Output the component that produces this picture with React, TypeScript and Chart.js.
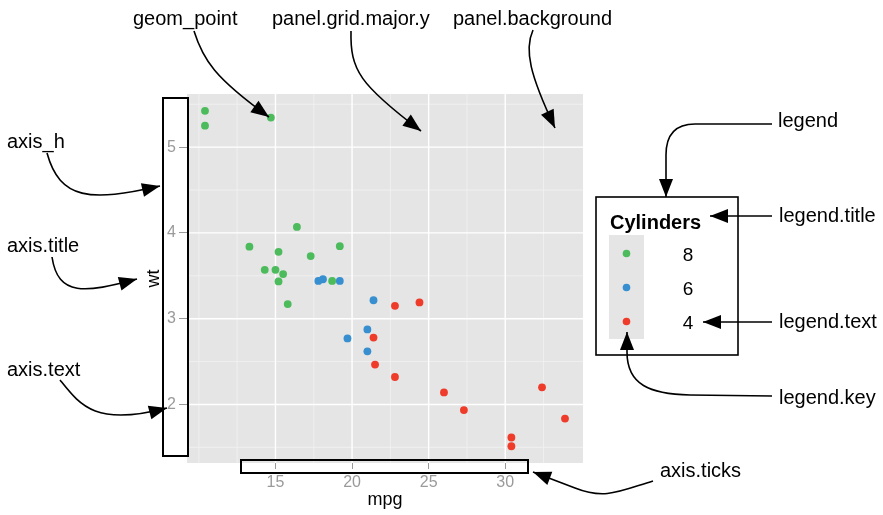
import React, { useEffect, useRef } from "react";
import { Chart, registerables } from "chart.js";

Chart.register(...registerables);

// ---- data (mtcars: mpg vs wt, grouped by cylinders) ----
const CYL_LABELS = ["8", "6", "4"];
const CYL_COLORS = ["#4cbb5c", "#378fd0", "#ef3b2a"];
const MPG_8 = [18.7, 14.3, 16.4, 17.3, 15.2, 10.4, 10.4, 14.7, 15.5, 15.2, 13.3, 19.2, 15.8, 15.0];
const WT_8 = [3.44, 3.57, 4.07, 3.73, 3.78, 5.25, 5.424, 5.345, 3.52, 3.435, 3.84, 3.845, 3.17, 3.57];
const MPG_6 = [21.0, 21.0, 21.4, 18.1, 19.2, 17.8, 19.7];
const WT_6 = [2.62, 2.875, 3.215, 3.46, 3.44, 3.44, 2.77];
const MPG_4 = [22.8, 24.4, 22.8, 32.4, 30.4, 33.9, 21.5, 27.3, 26.0, 30.4, 21.4];
const WT_4 = [2.32, 3.19, 3.15, 2.2, 1.615, 1.835, 2.465, 1.935, 2.14, 1.513, 2.78];

const X_TICKS = [15, 20, 25, 30];
const X_MINOR = [10, 12.5, 17.5, 22.5, 27.5, 32.5];
const Y_TICKS = [2, 3, 4, 5];
const Y_MINOR = [1.5, 2.5, 3.5, 4.5, 5.5];
const X_LIMITS = [9.225, 35.075];
const Y_LIMITS = [1.3175, 5.6196];
const X_TITLE = "mpg";
const Y_TITLE = "wt";
const LEGEND_TITLE = "Cylinders";

const FONT = "'Liberation Sans', Arial, Helvetica, sans-serif";
const PANEL_BG = "#e4e5e4";
const AXIS_GREY = "#9a9a9a";

type Cmd = [string, ...number[]];

// annotation labels (decoration): text, x, baseline y
const LABELS: [string, number, number][] = [
  ["geom_point", 133, 25],
  ["panel.grid.major.y", 272, 25],
  ["panel.background", 453, 25],
  ["axis_h", 7, 148],
  ["axis.title", 7, 252],
  ["axis.text", 7, 376],
  ["legend", 778, 127],
  ["legend.title", 779, 222],
  ["legend.text", 779, 328],
  ["legend.key", 779, 404],
  ["axis.ticks", 660, 477],
];

// annotation arrows (decoration)
const ARROWS: Cmd[][] = [
  [["M", 194, 31], ["C", 203, 60, 215, 78, 269, 117]],
  [["M", 351, 31], ["C", 350, 70, 360, 85, 421, 131]],
  [["M", 533, 30], ["C", 524, 50, 530, 75, 555, 128]],
  [["M", 47, 153], ["C", 60, 200, 90, 202, 160, 186]],
  [["M", 52, 257], ["C", 58, 297, 85, 293, 137, 279]],
  [["M", 60, 380], ["C", 80, 405, 95, 427, 167, 408]],
  [["M", 772, 124], ["L", 695, 124], ["C", 675, 124, 666, 135, 666, 155], ["L", 666, 197]],
  [["M", 772, 216], ["L", 710, 216]],
  [["M", 772, 322], ["L", 703, 322]],
  [["M", 772, 396], ["L", 690, 395], ["C", 650, 394, 627, 385, 627, 352], ["L", 627, 332]],
  [["M", 653, 481], ["C", 620, 491, 605, 500, 575, 488], ["L", 533, 472]],
];

// outline boxes (decoration): x, y, w, h
const BOXES: [number, number, number, number][] = [
  [163, 98, 25, 358],
  [241, 460, 287, 13],
];
const LEGEND_BOX: [number, number, number, number] = [596, 197, 142, 158];

function drawArrow(ctx: CanvasRenderingContext2D, cmds: Cmd[]) {
  let px = 0, py = 0, dx = 1, dy = 0;
  ctx.beginPath();
  for (const c of cmds) {
    const t = c[0];
    const v = c.slice(1) as number[];
    if (t === "M") {
      ctx.moveTo(v[0], v[1]);
      px = v[0]; py = v[1];
    } else if (t === "L") {
      ctx.lineTo(v[0], v[1]);
      dx = v[0] - px; dy = v[1] - py;
      px = v[0]; py = v[1];
    } else if (t === "C") {
      ctx.bezierCurveTo(v[0], v[1], v[2], v[3], v[4], v[5]);
      dx = v[4] - v[2]; dy = v[5] - v[3];
      px = v[4]; py = v[5];
    }
  }
  ctx.stroke();
  const len = Math.hypot(dx, dy) || 1;
  const ux = dx / len, uy = dy / len;
  const L = 18, W = 7;
  const bx = px - ux * L, by = py - uy * L;
  ctx.beginPath();
  ctx.moveTo(px, py);
  ctx.lineTo(bx - uy * W, by + ux * W);
  ctx.lineTo(bx + uy * W, by - ux * W);
  ctx.closePath();
  ctx.fill();
}

const panelPlugin = {
  id: "panelBg",
  beforeDraw(chart: any) {
    const { ctx, chartArea: a, scales } = chart;
    const xs = scales.x, ys = scales.y;
    ctx.save();
    ctx.fillStyle = "#ffffff";
    ctx.fillRect(0, 0, chart.width, chart.height);
    ctx.fillStyle = PANEL_BG;
    ctx.fillRect(a.left, a.top, a.right - a.left, a.bottom - a.top);
    ctx.strokeStyle = "#f3f3f3";
    ctx.lineWidth = 0.8;
    ctx.beginPath();
    for (const v of X_MINOR) {
      const p = xs.getPixelForValue(v);
      ctx.moveTo(p, a.top); ctx.lineTo(p, a.bottom);
    }
    for (const v of Y_MINOR) {
      const p = ys.getPixelForValue(v);
      ctx.moveTo(a.left, p); ctx.lineTo(a.right, p);
    }
    ctx.stroke();
    ctx.strokeStyle = "#ffffff";
    ctx.lineWidth = 1.4;
    ctx.beginPath();
    for (const v of X_TICKS) {
      const p = xs.getPixelForValue(v);
      ctx.moveTo(p, a.top); ctx.lineTo(p, a.bottom);
    }
    for (const v of Y_TICKS) {
      const p = ys.getPixelForValue(v);
      ctx.moveTo(a.left, p); ctx.lineTo(a.right, p);
    }
    ctx.stroke();
    ctx.restore();
  },
  afterDraw(chart: any) {
    const { ctx } = chart;
    ctx.save();
    // legend
    const [lx, ly, lw, lh] = LEGEND_BOX;
    ctx.fillStyle = PANEL_BG;
    ctx.fillRect(609, 235, 35, 104);
    ctx.fillStyle = "#000";
    ctx.font = `bold 20px ${FONT}`;
    ctx.textAlign = "left";
    ctx.textBaseline = "alphabetic";
    ctx.fillText(LEGEND_TITLE, 610, 229);
    ctx.font = `19px ${FONT}`;
    ctx.textAlign = "center";
    chart.data.datasets.forEach((ds: any, i: number) => {
      const cy = 253.5 + i * 34;
      ctx.fillStyle = ds.backgroundColor;
      ctx.beginPath();
      ctx.arc(626.5, cy, 3.8, 0, Math.PI * 2);
      ctx.fill();
      ctx.fillStyle = "#000";
      ctx.fillText(ds.label, 688, cy + 7);
    });
    ctx.strokeStyle = "#000";
    ctx.lineWidth = 1.6;
    ctx.strokeRect(lx, ly, lw, lh);
    // axis boxes
    ctx.lineWidth = 2;
    for (const [bx, by, bw, bh] of BOXES) ctx.strokeRect(bx, by, bw, bh);
    // labels
    ctx.fillStyle = "#000";
    ctx.font = `20px ${FONT}`;
    ctx.textAlign = "left";
    for (const [t, x, y] of LABELS) ctx.fillText(t, x, y);
    // arrows
    ctx.lineWidth = 1.6;
    ctx.strokeStyle = "#000";
    ctx.fillStyle = "#000";
    for (const a of ARROWS) drawArrow(ctx, a);
    ctx.restore();
  },
};

export default function App() {
  const ref = useRef<HTMLCanvasElement | null>(null);
  useEffect(() => {
    if (!ref.current) return;
    const mk = (xs: number[], ys: number[]) => xs.map((x, i) => ({ x, y: ys[i] }));
    const sets = [mk(MPG_8, WT_8), mk(MPG_6, WT_6), mk(MPG_4, WT_4)];
    const chart = new Chart(ref.current, {
      type: "scatter",
      data: {
        datasets: sets.map((d, i) => ({
          label: CYL_LABELS[i],
          data: d,
          backgroundColor: CYL_COLORS[i],
          borderWidth: 0,
          pointRadius: 3.9,
          pointHoverRadius: 3.9,
        })),
      },
      options: {
        animation: false,
        responsive: false,
        devicePixelRatio: 1,
        events: [],
        layout: { padding: { left: 140, right: 300, top: 94, bottom: 0 } },
        plugins: { legend: { display: false }, tooltip: { enabled: false } },
        scales: {
          x: {
            type: "linear",
            position: "bottom",
            min: X_LIMITS[0],
            max: X_LIMITS[1],
            afterBuildTicks: (s: any) => { s.ticks = X_TICKS.map((v) => ({ value: v })); },
            afterFit: (s: any) => { s.height = 52; },
            border: { display: false },
            grid: { display: true, drawOnChartArea: false, drawTicks: true, tickLength: 6, tickColor: AXIS_GREY, tickWidth: 1 },
            ticks: { color: AXIS_GREY, padding: 4, autoSkip: false, maxRotation: 0, font: { family: FONT, size: 16 } },
            title: { display: true, text: X_TITLE, color: "#000", padding: { top: 0, bottom: 4 }, font: { family: FONT, size: 18 } },
          },
          y: {
            type: "linear",
            position: "left",
            min: Y_LIMITS[0],
            max: Y_LIMITS[1],
            afterBuildTicks: (s: any) => { s.ticks = Y_TICKS.map((v) => ({ value: v })); },
            afterFit: (s: any) => { s.width = 47; },
            border: { display: false },
            grid: { display: true, drawOnChartArea: false, drawTicks: true, tickLength: 8, tickColor: AXIS_GREY, tickWidth: 1 },
            ticks: { color: AXIS_GREY, padding: 3, autoSkip: false, font: { family: FONT, size: 16 } },
            title: { display: true, text: Y_TITLE, color: "#000", padding: { top: 3, bottom: 0 }, font: { family: FONT, size: 18 } },
          },
        },
      },
      plugins: [panelPlugin],
    } as any);
    return () => chart.destroy();
  }, []);
  return (
    <div style={{ position: "absolute", left: 0, top: 0, width: 883, height: 515 }}>
      <canvas ref={ref} width={883} height={515} style={{ display: "block" }} />
    </div>
  );
}
